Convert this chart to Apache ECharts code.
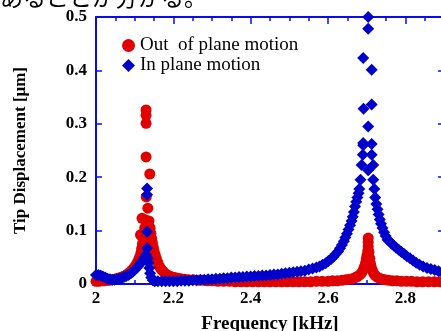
<!DOCTYPE html>
<html><head><meta charset="utf-8">
<script src="https://cdn.jsdelivr.net/npm/echarts@6/dist/echarts.min.js"></script>
<style>html,body{margin:0;padding:0;background:#fff}#c{width:441px;height:331px}</style>
</head><body><div id="c"></div>
<script>
// Out of plane motion (red circles)
const outFreq = [2.000,2.007,2.014,2.021,2.028,2.035,2.042,2.049,2.056,2.063,2.070,2.076,2.082,2.088,2.093,2.098,2.102,2.106,2.110,2.113,2.116,
 2.118,2.120,2.115,2.119,2.122,2.124,2.126,2.128,2.130,2.1295,2.1295,2.1295,2.1295,2.134,2.139,2.140,2.137,2.142,2.144,2.146,2.148,2.150,2.153,2.156,2.160,2.164,2.168,2.173,2.178,2.184,2.190,2.197,2.204,2.212,2.220,2.230,2.240,2.252,2.264,2.276,2.288,2.300,
 2.315,2.330,2.345,2.360,2.375,2.390,2.405,2.420,2.435,2.450,2.465,2.480,2.495,2.510,2.525,2.540,2.555,2.570,2.585,2.600,2.612,2.624,2.636,2.646,2.655,2.663,2.670,2.676,2.682,2.687,2.691,2.694,2.697,2.699,2.701,2.703,2.704,2.704,2.704,
 2.706,2.708,2.710,2.712,2.715,2.718,2.722,2.727,2.733,2.740,2.748,2.757,2.767,2.778,2.790,2.803,2.816,2.830,2.845,2.860,2.875,2.890,2.900];
const outVal = [0.005,0.005,0.006,0.006,0.007,0.007,0.008,0.009,0.011,0.012,0.014,0.016,0.019,0.022,0.026,0.030,0.034,0.039,0.045,0.051,0.058,
 0.066,0.075,0.092,0.123,0.084,0.094,0.105,0.120,0.163,0.238,0.301,0.316,0.326,0.142,0.206,0.105,0.118,0.095,0.085,0.077,0.069,0.062,0.055,0.048,0.040,0.033,0.028,0.024,0.020,0.017,0.015,0.013,0.012,0.011,0.010,0.009,0.008,0.008,0.007,0.007,0.006,0.006,
 0.005,0.005,0.005,0.004,0.004,0.004,0.004,0.004,0.004,0.004,0.004,0.004,0.004,0.004,0.004,0.004,0.004,0.005,0.005,0.005,0.006,0.006,0.007,0.008,0.009,0.010,0.012,0.014,0.017,0.021,0.026,0.032,0.039,0.047,0.054,0.062,0.070,0.078,0.086,
 0.060,0.048,0.038,0.031,0.025,0.020,0.016,0.013,0.011,0.009,0.008,0.007,0.006,0.006,0.005,0.005,0.005,0.004,0.004,0.004,0.004,0.004,0.004];

// In plane motion (blue diamonds)
const inFreq = [2.000,2.006,2.012,2.018,2.024,2.030,2.036,2.042,2.048,2.054,2.060,2.066,2.072,2.078,2.084,2.090,2.095,2.100,2.105,2.110,2.114,2.118,2.122,2.126,2.129,
 2.132,2.132,2.132,2.132,2.134,2.136,2.138,2.140,2.143,2.147,2.152,2.160,2.170,2.180,2.190,2.200,2.210,2.220,2.230,2.240,2.250,2.260,2.270,2.280,2.290,2.300,
 2.310,2.320,2.330,2.340,2.350,2.360,2.370,2.380,2.390,2.400,2.410,2.420,2.430,2.440,2.450,2.460,2.470,2.480,2.490,2.500,2.510,2.520,2.530,2.540,2.550,2.560,2.570,
 2.578,2.586,2.594,2.601,2.608,2.614,2.620,2.626,2.631,2.636,2.641,2.645,2.649,2.653,2.657,2.661,2.664,2.667,2.670,2.673,2.676,2.679,2.681,2.684,2.687,2.690,2.691,2.691,2.692,2.691,
 2.704,2.704,2.704,2.704,2.713,2.713,2.713,2.713,2.717,2.717,2.720,2.722,2.725,2.728,2.731,2.734,2.737,2.741,2.745,2.749,2.754,2.759,2.764,2.770,2.776,2.783,2.790,2.797,2.804,2.812,2.820,2.828,2.837,2.846,2.856,2.866,2.876,2.886,2.896,2.900];
const inVal = [0.017,0.017,0.016,0.014,0.012,0.010,0.009,0.008,0.008,0.009,0.010,0.011,0.013,0.015,0.017,0.020,0.023,0.026,0.030,0.034,0.038,0.042,0.046,0.050,0.055,
 0.067,0.098,0.167,0.179,0.048,0.040,0.030,0.020,0.012,0.007,0.005,0.005,0.005,0.005,0.005,0.005,0.005,0.006,0.006,0.006,0.007,0.007,0.008,0.008,0.009,0.009,
 0.010,0.010,0.011,0.011,0.012,0.012,0.013,0.013,0.014,0.014,0.015,0.015,0.016,0.016,0.017,0.018,0.018,0.019,0.020,0.021,0.022,0.023,0.024,0.025,0.027,0.029,0.031,
 0.033,0.036,0.039,0.043,0.047,0.051,0.056,0.061,0.067,0.073,0.080,0.087,0.094,0.102,0.110,0.118,0.126,0.135,0.145,0.154,0.162,0.170,0.178,0.195,0.223,0.242,0.260,0.264,0.328,0.423,
 0.500,0.478,0.295,0.213,0.401,0.336,0.262,0.242,0.223,0.195,0.178,0.162,0.150,0.140,0.130,0.121,0.113,0.105,0.097,0.090,0.083,0.080,0.076,0.072,0.068,0.064,0.060,0.056,0.052,0.048,0.044,0.040,0.036,0.033,0.030,0.028,0.026,0.024,0.022,0.021];

const seriesNames = ['Out  of plane motion', 'In plane motion'];
const headText = 'あることが分かる。';

const AX = '#0a0aee';
const SERIF = '"Liberation Serif","Times New Roman",serif';
const chart = echarts.init(document.getElementById('c'), null, {renderer:'canvas'});
const zip = (a,b) => a.map((v,i) => [v, b[i]]);
const tickStyle = (len) => ({show:true, inside:true, length:len, lineStyle:{color:AX, width:1.5}});
const baseX = (pos, interval, len, labels, line) => ({
  type:'value', min:2, max:2.9, interval:interval, position:pos, gridIndex:0,
  axisLine:{show:line, onZero:false, lineStyle:{color:AX, width:2}},
  axisTick:tickStyle(len), splitLine:{show:false},
  axisLabel: labels ? {show:true, showMaxLabel:false, margin:6, color:'#000', fontFamily:SERIF, fontWeight:'bold', fontSize:17,
     formatter:v => (Math.abs(v-2)<1e-9 ? '2' : v.toFixed(1))} : {show:false}
});
const xb = baseX('bottom', 0.2, 7, true, true);
xb.name = 'Frequency [kHz]'; xb.nameLocation = 'middle'; xb.nameGap = 31;
xb.nameTextStyle = {color:'#000', fontFamily:SERIF, fontWeight:'bold', fontSize:19};

const option = {
  animation:false,
  backgroundColor:'#fff',
  grid:{left:96, top:17, right:-3, bottom:47, containLabel:false, outerBoundsMode:'none'},
  graphic:[{type:'text', left:0, top:-14, style:{text:headText, font:'23px "Noto Sans CJK JP"', fill:'#000'}}],
  legend:{
    orient:'vertical', left:117, top:31, itemGap:1, itemWidth:13, itemHeight:13,
    textStyle:{color:'#000', fontFamily:SERIF, fontSize:19},
    data:[{name:seriesNames[0], icon:'circle'}, {name:seriesNames[1], icon:'diamond'}]
  },
  xAxis:[ xb, baseX('bottom', 0.05, 4, false, false), baseX('top', 0.2, 7, false, true), baseX('top', 0.05, 4, false, false) ],
  yAxis:[
    {type:'value', min:0, max:0.5, interval:0.1, position:'left',
     axisLine:{show:true, onZero:false, lineStyle:{color:AX, width:2}}, axisTick:tickStyle(6), splitLine:{show:false},
     axisLabel:{margin:9, color:'#000', fontFamily:SERIF, fontWeight:'bold', fontSize:17, formatter:v => (v===0 ? '0' : v.toFixed(1))},
     name:'Tip Displacement [μm]', nameLocation:'middle', nameGap:67,
     nameTextStyle:{color:'#000', fontFamily:SERIF, fontWeight:'bold', fontSize:17}},
    {type:'value', min:0, max:0.5, interval:0.1, position:'right',
     axisLine:{show:true, onZero:false, lineStyle:{color:AX, width:2}}, axisTick:tickStyle(6), splitLine:{show:false}, axisLabel:{show:false}}
  ],
  series:[
    {name:seriesNames[0], type:'scatter', symbol:'circle', symbolSize:11, clip:false, xAxisIndex:0, yAxisIndex:0,
     itemStyle:{color:'#e00000', opacity:1}, data:zip(outFreq, outVal)},
    {name:seriesNames[1], type:'scatter', symbol:'diamond', symbolSize:12, clip:false, xAxisIndex:0, yAxisIndex:0,
     itemStyle:{color:'#0000cc', opacity:1}, data:zip(inFreq, inVal)}
  ]
};
chart.setOption(option);
</script></body></html>
